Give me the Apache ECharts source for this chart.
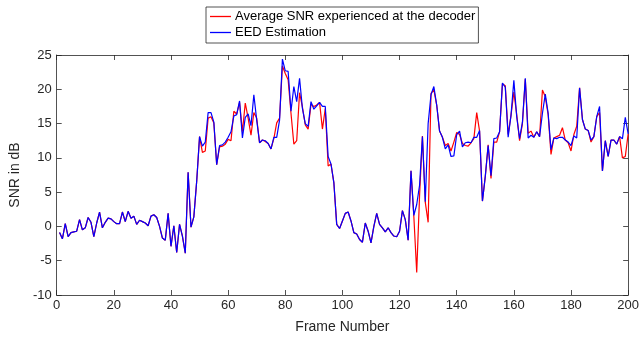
<!DOCTYPE html>
<html><head><meta charset="utf-8">
<script src="https://cdn.jsdelivr.net/npm/echarts@6/dist/echarts.min.js"></script>
<style>html,body{margin:0;padding:0;background:#fff}#c{width:642px;height:339px}</style>
</head><body><div id="c"></div>
<script>
const xTicks = [0,20,40,60,80,100,120,140,160,180,200];
const yTicks = [-10,-5,0,5,10,15,20,25];
const seriesNames = ['Average SNR experienced at the decoder','EED Estimation'];
const snrDecoder = [
-0.9,-1.8,0.4,-1.5,-0.9,-0.8,-0.7,1.0,-0.5,-0.2,
1.3,0.6,-1.5,0.5,2.1,-0.2,0.6,1.2,1.1,0.7,
0.4,0.4,2.1,0.7,2.2,1.2,1.5,0.3,0.9,0.7,
0.5,0.1,1.5,1.7,1.3,0.0,-1.7,-2.0,1.9,-2.9,
0.1,-3.8,0.3,-1.4,-3.9,7.9,-0.1,1.4,6.6,13.1,
10.8,11.0,15.8,16.0,15.1,9.0,11.6,11.7,12.0,12.7,
12.5,16.8,16.4,18.1,13.8,18.0,15.8,13.3,16.6,15.8,
12.2,12.6,12.4,12.1,11.3,12.8,15.1,15.8,23.4,22.3,
21.4,16.5,12.0,12.5,19.5,17.4,14.8,14.2,17.8,17.5,
17.7,18.1,14.2,17.2,8.8,9.1,6.4,0.3,-0.3,0.8,
1.9,2.1,0.8,-0.9,-1.1,-1.9,-2.3,0.5,-0.7,-2.4,
0.0,1.9,0.3,-0.2,-0.8,-0.2,-0.9,-1.4,-1.5,-0.7,
2.3,1.0,-2.0,8.1,1.4,-6.7,4.5,13.2,3.5,0.6,
19.4,19.9,17.7,13.9,13.0,11.8,12.1,11.0,12.3,13.7,
13.4,12.1,11.8,11.7,12.2,12.8,16.6,13.9,3.7,7.3,
11.9,7.0,12.3,12.3,13.8,20.8,20.5,13.4,16.2,19.6,
16.3,12.5,15.0,21.5,13.6,13.9,13.0,13.8,13.1,19.9,
18.9,16.3,10.5,12.9,13.1,13.3,14.4,12.6,12.2,11.0,
13.4,14.6,20.2,15.6,14.2,14.0,12.3,13.1,16.0,16.6,
8.1,12.5,10.2,12.6,12.6,12.0,13.1,10.0,10.2,13.5
];
const eedEstimation = [
-0.9,-1.8,0.4,-1.5,-0.9,-0.8,-0.7,1.0,-0.5,-0.2,
1.3,0.6,-1.5,0.5,2.1,-0.2,0.6,1.2,1.1,0.7,
0.4,0.4,2.1,0.7,2.2,1.2,1.5,0.3,0.9,0.7,
0.5,0.1,1.5,1.7,1.3,0.0,-1.7,-2.0,1.9,-2.9,
0.1,-3.8,0.3,-1.4,-3.9,7.9,-0.1,1.4,6.6,13.1,
11.7,12.3,16.6,16.6,15.2,9.0,11.8,11.9,12.3,13.0,
13.8,16.1,16.3,18.3,12.9,15.9,16.4,14.7,19.2,15.5,
12.2,12.6,12.5,12.1,11.3,13.0,13.0,15.5,24.4,22.7,
22.6,16.8,20.4,18.2,21.6,17.2,15.0,14.6,18.2,17.1,
17.6,18.1,17.5,17.5,10.2,9.1,6.4,0.3,-0.3,0.8,
1.9,2.1,0.8,-0.9,-1.1,-1.9,-2.3,0.5,-0.7,-2.4,
0.0,1.9,0.3,-0.2,-0.8,-0.2,-0.9,-1.4,-1.5,-0.7,
2.3,1.0,-2.0,8.1,1.6,3.2,6.0,13.1,3.6,15.0,
19.2,20.4,17.7,13.9,13.0,11.3,11.9,10.2,10.3,13.4,
13.9,11.6,12.2,12.3,12.2,13.0,13.0,14.0,3.7,7.3,
11.8,7.4,12.8,12.9,13.8,20.9,20.3,13.0,16.2,21.3,
16.0,12.8,15.2,21.6,12.9,13.3,13.0,13.8,13.1,16.5,
19.3,16.5,11.2,12.9,12.8,13.0,13.0,12.6,12.3,11.8,
13.2,12.9,20.2,15.6,14.2,14.0,12.6,13.1,16.0,17.5,
8.1,12.5,10.2,12.6,12.6,12.0,13.1,12.8,15.9,13.5
];

const FONT = 'Liberation Sans, Arial, sans-serif';
const TXT = '#262626';
function pairs(arr){ return arr.map((v,i)=>[i+1, v]); }

const chart = echarts.init(document.getElementById('c'), null, {renderer:'canvas'});
const axisLineStyle = {color: TXT, width: 0.8};
function boxAxis(extra){
  return Object.assign({
    axisLine: {show: true, onZero: false, lineStyle: axisLineStyle},
    axisTick: {show: true, inside: true, length: 5, lineStyle: axisLineStyle},
    splitLine: {show: false}
  }, extra);
}
chart.setOption({
  animation: false,
  backgroundColor: '#fff',
  textStyle: {fontFamily: FONT},
  grid: {left: 53, right: 12, top: 55, bottom: 43, containLabel: false},
  legend: {
    data: seriesNames,
    icon: 'rect',
    orient: 'vertical',
    top: 7,
    left: 206,
    width: 273,
    itemWidth: 21,
    itemHeight: 1.3,
    itemGap: 3,
    padding: [3, 3, 4, 4],
    borderColor: TXT,
    borderWidth: 0.8,
    backgroundColor: '#fff',
    textStyle: {fontFamily: FONT, fontSize: 13, color: '#000', padding: [0,0,0,-1]}
  },
  xAxis: [boxAxis({
    type: 'value', min: 0, max: 200, interval: 20,
    name: 'Frame Number', nameLocation: 'middle', nameGap: 25,
    nameTextStyle: {fontFamily: FONT, fontSize: 14, color: TXT},
    axisLabel: {fontFamily: FONT, fontSize: 13, color: TXT, margin: 4}
  }), boxAxis({
    type: 'value', min: 0, max: 200, interval: 20, position: 'top',
    axisLabel: {show: false}
  })],
  yAxis: [boxAxis({
    type: 'value', min: -10, max: 25, interval: 5,
    name: 'SNR in dB', nameLocation: 'middle', nameGap: 29, nameRotate: 90,
    nameTextStyle: {fontFamily: FONT, fontSize: 14, color: TXT},
    axisLabel: {fontFamily: FONT, fontSize: 13, color: TXT, margin: 5}
  }), boxAxis({
    type: 'value', min: -10, max: 25, interval: 5, position: 'right',
    axisLabel: {show: false}
  })],
  series: [{
    name: seriesNames[0], type: 'line', data: pairs(snrDecoder),
    symbol: 'none', lineStyle: {color: '#ff0000', width: 1.2}, itemStyle: {color: '#ff0000'}
  },{
    name: seriesNames[1], type: 'line', data: pairs(eedEstimation),
    symbol: 'none', lineStyle: {color: '#0000ff', width: 1.2}, itemStyle: {color: '#0000ff'}
  }]
});
</script></body></html>
